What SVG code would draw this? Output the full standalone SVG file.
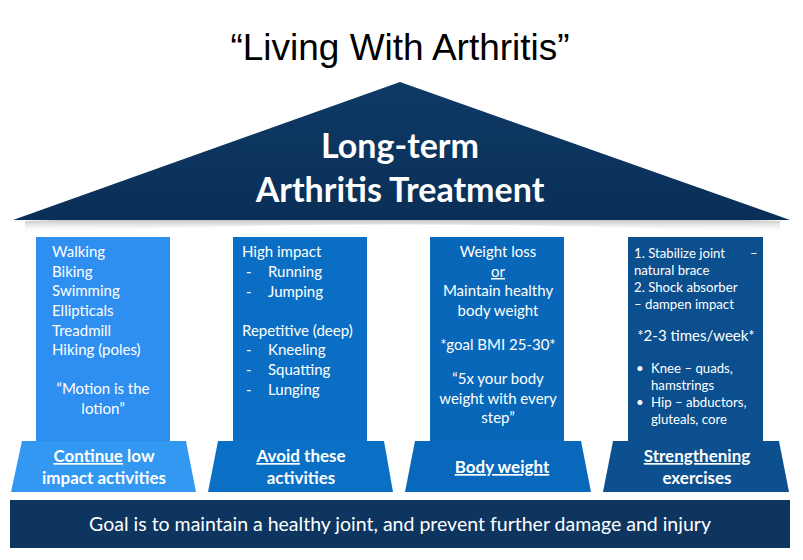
<svg xmlns="http://www.w3.org/2000/svg" width="803" height="560" viewBox="0 0 803 560">
<defs>
<linearGradient id="roofG" x1="0" y1="0" x2="0" y2="1">
<stop offset="0" stop-color="#0e3a66"/><stop offset="1" stop-color="#0a2f57"/>
</linearGradient>
<linearGradient id="rs" x1="0" y1="0" x2="0" y2="1">
<stop offset="0" stop-color="#7a7a7a"/><stop offset="1" stop-color="#ffffff" stop-opacity="0"/>
</linearGradient>
<radialGradient id="colShade" cx="0.5" cy="1" r="0.6">
<stop offset="0" stop-color="#000" stop-opacity="0.35"/><stop offset="1" stop-color="#000" stop-opacity="0"/>
</radialGradient>
</defs>
<style>
.t{font-family:Lato,"Open Sans","Liberation Sans",sans-serif;fill:#ffffff;font-size:15px}
.s{font-size:13.2px}
.c{text-anchor:middle}
.b{font-weight:bold;font-size:17px}
.u{text-decoration:underline}
</style>
<rect width="803" height="560" fill="#ffffff"/>
<text x="400" y="60" text-anchor="middle" font-family="'Liberation Sans',Arial,sans-serif" font-size="37" fill="#000">“Living With Arthritis”</text>

<g id="roof">
<path d="M25 221 Q400 208 780 221 L780 233 Q400 216 25 233 Z" fill="url(#rs)" opacity="0.9"/>
<polygon points="400,82 13,220 790,220" fill="url(#roofG)"/>
<text class="t c" x="400" y="158" style="font-size:34px;font-weight:bold">Long-term</text>
<text class="t c" x="400" y="202" style="font-size:34px;font-weight:bold">Arthritis Treatment</text>
</g>

<g id="pillar1">
<rect x="36" y="237" width="134" height="205" fill="#2f8ff0"/>
<ellipse cx="103" cy="443" rx="75" ry="9" fill="url(#colShade)"/>
<text class="t" x="52" y="257">Walking</text>
<text class="t" x="52" y="277">Biking</text>
<text class="t" x="52" y="296">Swimming</text>
<text class="t" x="52" y="316">Ellipticals</text>
<text class="t" x="52" y="336">Treadmill</text>
<text class="t" x="52" y="355">Hiking (poles)</text>
<text class="t c" x="103" y="394">“Motion is the</text>
<text class="t c" x="103" y="414">lotion”</text>
</g>

<g id="pillar2">
<rect x="233" y="237" width="134" height="205" fill="#0a6fc4"/>
<ellipse cx="300" cy="443" rx="75" ry="9" fill="url(#colShade)"/>
<text class="t" x="242" y="257">High impact</text>
<text class="t" x="246" y="277">-</text><text class="t" x="268" y="277">Running</text>
<text class="t" x="246" y="297">-</text><text class="t" x="268" y="297">Jumping</text>
<text class="t" x="242" y="336">Repetitive (deep)</text>
<text class="t" x="246" y="355">-</text><text class="t" x="268" y="355">Kneeling</text>
<text class="t" x="246" y="375">-</text><text class="t" x="268" y="375">Squatting</text>
<text class="t" x="246" y="395">-</text><text class="t" x="268" y="395">Lunging</text>
</g>

<g id="pillar3">
<rect x="430" y="237" width="134" height="205" fill="#0867b9"/>
<ellipse cx="497" cy="443" rx="75" ry="9" fill="url(#colShade)"/>
<text class="t c" x="498" y="257">Weight loss</text>
<text class="t c u" x="498" y="277">or</text>
<text class="t c" x="498" y="296">Maintain healthy</text>
<text class="t c" x="498" y="316">body weight</text>
<text class="t c" x="498" y="350">*goal BMI 25-30*</text>
<text class="t c" x="498" y="384">“5x your body</text>
<text class="t c" x="498" y="404">weight with every</text>
<text class="t c" x="498" y="423">step”</text>
</g>

<g id="pillar4">
<rect x="628" y="237" width="135" height="205" fill="#0b4f8f"/>
<ellipse cx="695" cy="443" rx="75" ry="9" fill="url(#colShade)"/>
<text class="t s" x="634" y="258">1. Stabilize joint</text>
<text class="t s" x="750" y="258">–</text>
<text class="t s" x="634" y="275">natural brace</text>
<text class="t s" x="634" y="292">2. Shock absorber</text>
<text class="t s" x="634" y="309">– dampen impact</text>
<text class="t c" x="696" y="341">*2-3 times/week*</text>
<text class="t s" x="636" y="373">•</text><text class="t s" x="651" y="373">Knee – quads,</text>
<text class="t s" x="651" y="390">hamstrings</text>
<text class="t s" x="636" y="407">•</text><text class="t s" x="651" y="407">Hip – abductors,</text>
<text class="t s" x="651" y="424">gluteals, core</text>
</g>

<g id="base1">
<polygon points="22,441 186,441 196,492 11,492" fill="#3398f2"/>
<text class="t b c" x="104" y="462"><tspan class="u">Continue</tspan> low</text>
<text class="t b c" x="104" y="484">impact activities</text>
</g>
<g id="base2">
<polygon points="218,441 384,441 393,492 208,492" fill="#0a70c6"/>
<text class="t b c" x="301" y="462"><tspan class="u">Avoid</tspan> these</text>
<text class="t b c" x="301" y="484">activities</text>
</g>
<g id="base3">
<polygon points="415,441 581,441 591,492 405,492" fill="#0868bb"/>
<text class="t b c" x="502" y="473"><tspan class="u">Body weight</tspan></text>
</g>
<g id="base4">
<polygon points="613,441 779,441 789,492 603,492" fill="#0c5090"/>
<text class="t b c" x="697" y="462"><tspan class="u">Strengthening</tspan></text>
<text class="t b c" x="697" y="484">exercises</text>
</g>

<g id="foundation">
<rect x="10" y="500" width="780" height="48" fill="#0d3560"/>
<text class="t c" x="400" y="531" style="font-size:19.5px">Goal is to maintain a healthy joint, and prevent further damage and injury</text>
</g>
</svg>
